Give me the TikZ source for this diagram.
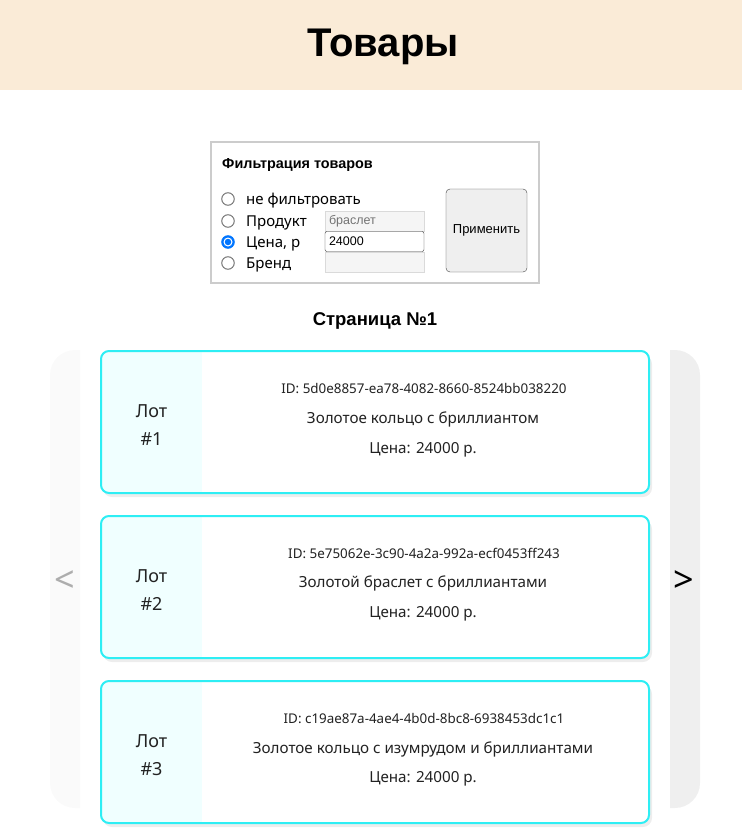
\documentclass[tikz,border=0pt]{standalone}
\usepackage{fontspec}
\setmainfont{Noto Sans}
\newfontfamily\arialfont{Liberation Sans}
\definecolor{headbg}{HTML}{FAEBD7}
\definecolor{cardcyan}{HTML}{2EEEF4}
\definecolor{lotbg}{HTML}{F0FFFF}
\definecolor{panelleft}{HTML}{FAFAFA}
\definecolor{panelright}{HTML}{EFEFEF}
\definecolor{framegray}{HTML}{CCCCCC}
\definecolor{fieldgray}{HTML}{F5F5F5}
\definecolor{fieldline}{HTML}{DADADA}
\definecolor{radioblue}{HTML}{0075FF}
\definecolor{radiogray}{HTML}{767676}
\definecolor{textdark}{HTML}{222222}
\begin{document}
\begin{tikzpicture}[x=1pt, y=-1pt,
    field/.style={draw=fieldline, fill=fieldgray, text width=91pt, inner xsep=4pt, inner ysep=0pt,
      minimum height=20pt, align=left, font=\arialfont\fontsize{12.5}{14}\selectfont, text=black!55},
    radio/.style={circle, draw=radiogray, fill=white, line width=1pt, minimum size=12.5pt, inner sep=0pt},
    optlabel/.style={anchor=west, inner sep=0pt, font=\fontsize{15}{17}\selectfont},
    idline/.style={font=\fontsize{13.4}{15}\selectfont, text=textdark},
    itemline/.style={font=\fontsize{15.2}{18}\selectfont, text=textdark},
    lotlabel/.style={align=center, font=\fontsize{18}{28}\selectfont, text=textdark},
    card/.style={draw=cardcyan, line width=2pt, rounded corners=8pt},
    shade/.style={fill=black, opacity=0.07, rounded corners=9pt}
]
\useasboundingbox (0,0) rectangle (742,838);

% Header
\fill[headbg] (0,0) rectangle (742,90);
\node[font=\arialfont\bfseries\fontsize{40}{44}\selectfont] (title) at (383,47) {Товары};

% Filter form
\draw[framegray, line width=2pt] (211,142) rectangle (539,283);
\node[anchor=west, inner sep=0pt, font=\arialfont\bfseries\fontsize{14.4}{16}\selectfont] (filtertitle) at (222,165) {Фильтрация товаров};
\node[radio] (r1) at (228,199) {};
\node[radio] (r2) at (228,221) {};
\node[radio, draw=radioblue, fill=radioblue] (r3) at (228,242) {};
\node[circle, fill=white, minimum size=9pt, inner sep=0pt] (r3gap) at (r3) {};
\node[circle, fill=radioblue, minimum size=6.5pt, inner sep=0pt] (r3dot) at (r3) {};
\node[radio] (r4) at (228,263) {};
\node[optlabel] (l1) at (246,201) {не фильтровать};
\node[optlabel] (l2) at (246,223) {Продукт};
\node[optlabel] (l3) at (246,244) {Цена, р};
\node[optlabel] (l4) at (246,265) {Бренд};
\node[field] (fproduct) at (374.5,221) {браслет};
\node[field, draw=black!80, fill=white, text=black, rounded corners=2pt] (fprice) at (374.5,241.5) {24000};
\node[field] (fbrand) at (374.5,262) {};
\node[draw=black!75, fill=panelright, rounded corners=4pt, minimum width=81pt, minimum height=83pt,
  font=\arialfont\fontsize{13}{15}\selectfont] (apply) at (486.5,230.5) {Применить};

% Page title
\node[font=\arialfont\bfseries\fontsize{18.5}{21}\selectfont] (pagetitle) at (375,321) {Страница №1};

% Side panels
\begin{scope}
  \clip (50,350) rectangle (80,808);
  \fill[panelleft, rounded corners=25pt] (50,350) rectangle (110,808);
\end{scope}
\begin{scope}
  \clip (670,350) rectangle (700,808);
  \fill[panelright, rounded corners=25pt] (640,350) rectangle (700,808);
\end{scope}
\node[text=black!32, font=\fontsize{36}{36}\selectfont] (prev) at (65,582) {<};
\node[text=black, font=\bfseries\fontsize{36}{36}\selectfont] (next) at (684,582) {>};

% Card 1
\fill[shade] (103,355) rectangle (652,497);
\begin{scope}
  \clip[rounded corners=8pt] (101,351) rectangle (649,493);
  \fill[white] (101,351) rectangle (649,493);
  \fill[lotbg] (101,351) rectangle (202,493);
\end{scope}
\draw[card] (101,351) rectangle (649,493);
\node[lotlabel] (lot1) at (151.5,425) {Лот\\\#1};
\node[idline] (id1) at (424,388) {ID: 5d0e8857-ea78-4082-8660-8524bb038220};
\node[itemline] (name1) at (423,419) {Золотое кольцо с бриллиантом};
\node[itemline] (price1) at (423,450) {Цена: 24000 р.};

% Card 2
\fill[shade] (103,520) rectangle (652,662);
\begin{scope}
  \clip[rounded corners=8pt] (101,516) rectangle (649,658);
  \fill[white] (101,516) rectangle (649,658);
  \fill[lotbg] (101,516) rectangle (202,658);
\end{scope}
\draw[card] (101,516) rectangle (649,658);
\node[lotlabel] (lot2) at (151.5,590) {Лот\\\#2};
\node[idline] (id2) at (424,553) {ID: 5e75062e-3c90-4a2a-992a-ecf0453ff243};
\node[itemline] (name2) at (423,583) {Золотой браслет с бриллиантами};
\node[itemline] (price2) at (423,614) {Цена: 24000 р.};

% Card 3
\fill[shade] (103,685) rectangle (652,827);
\begin{scope}
  \clip[rounded corners=8pt] (101,681) rectangle (649,823);
  \fill[white] (101,681) rectangle (649,823);
  \fill[lotbg] (101,681) rectangle (202,823);
\end{scope}
\draw[card] (101,681) rectangle (649,823);
\node[lotlabel] (lot3) at (151.5,755) {Лот\\\#3};
\node[idline] (id3) at (424,718) {ID: c19ae87a-4ae4-4b0d-8bc8-6938453dc1c1};
\node[itemline] (name3) at (423,749) {Золотое кольцо с изумрудом и бриллиантами};
\node[itemline] (price3) at (423,779) {Цена: 24000 р.};

\end{tikzpicture}
\end{document}
